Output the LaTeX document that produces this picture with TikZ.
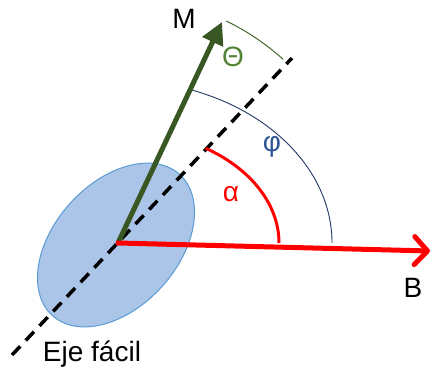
\documentclass[tikz,border=0pt]{standalone}
\usepackage{fontspec}
\setmainfont{Liberation Sans}
\usetikzlibrary{arrows.meta}
\definecolor{vecgreen}{RGB}{56,87,35}
\definecolor{thetagreen}{RGB}{84,130,53}
\definecolor{phiblue}{RGB}{47,85,151}
\definecolor{arcnavy}{RGB}{31,56,100}
\definecolor{grainfill}{RGB}{170,197,232}
\definecolor{grainedge}{RGB}{91,155,213}
\tikzset{
  lbl/.style={inner sep=0pt, font=\fontsize{28}{32}\selectfont},
  axisline/.style={black, line width=3.5pt, dash pattern=on 12pt off 8pt},
}
\begin{document}
\begin{tikzpicture}[x=1pt,y=1pt]
\useasboundingbox (0,0) rectangle (430,370);
\coordinate (O) at (118,127);
\coordinate (M) at (222,348);
\coordinate (B) at (430,119);
\coordinate (axlo) at (12,15);
\coordinate (axhi) at (292,312);

% grain (easy axis ellipse)
\draw[grainedge, fill=grainfill, line width=1pt, rotate around={48:(116,125)}]
  (116,125) ellipse [x radius=95, y radius=62];

% easy axis
\draw[axisline] (axlo) -- (axhi);

% angles
\draw[red, line width=3pt] ([shift={(0:161 and 113)}]O) arc [start angle=0, end angle=57, x radius=161, y radius=113];
\draw[arcnavy, line width=0.9pt] ([shift={(0:214 and 163)}]O) arc [start angle=0, end angle=70.3, x radius=214, y radius=163];
\draw[thetagreen!80!black, line width=1pt] ([shift={(48:247)}]O) arc [start angle=48, end angle=64, radius=247];

% vectors
\draw[vecgreen, line width=5pt, -{Triangle[length=22pt, width=22pt]}] (O) -- (M);
\draw[red, line width=5pt, line cap=round, -{Straight Barb[length=13pt, width=28pt, round]}] (O) -- (B);

% labels
\node[lbl] (lM) at (184,351) {M};
\node[lbl] (lB) at (413,82) {B};
\node[lbl, thetagreen] (ltheta) at (233,313) {Θ};
\node[lbl, phiblue] (lphi) at (272,223) {φ};
\node[lbl, red] (lalpha) at (231,176) {α};
\node[lbl] (leje) at (92,16) {Eje fácil};
\end{tikzpicture}
\end{document}
